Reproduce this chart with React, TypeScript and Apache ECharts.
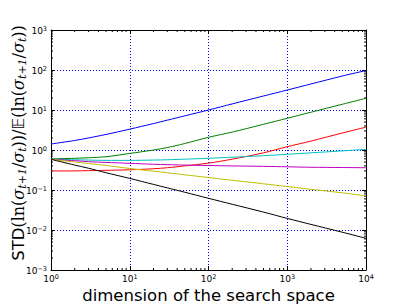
import React, { useEffect, useRef } from "react";
import * as echarts from "echarts";

const dims = [1, 2, 3, 5, 10, 20, 30, 50, 100, 200, 500, 1000, 2000, 5000, 10000];
const blue = [1.41, 1.73, 2.0, 2.45, 3.32, 4.58, 5.57, 7.14, 10.0, 14.2, 22.4, 31.6, 44.7, 70.7, 97];
const green = [0.6, 0.62, 0.64, 0.68, 0.82, 1.0, 1.15, 1.45, 2.08, 2.8, 4.4, 6.2, 8.8, 13.9, 19.6];
const red = [0.3, 0.3, 0.305, 0.31, 0.32, 0.34, 0.36, 0.4, 0.47, 0.59, 0.85, 1.21, 1.67, 2.66, 3.72];
const cyan = [0.585, 0.57, 0.56, 0.55, 0.55, 0.56, 0.57, 0.59, 0.62, 0.66, 0.72, 0.78, 0.85, 0.95, 1.04];
const magenta = [0.585, 0.54, 0.51, 0.49, 0.465, 0.44, 0.43, 0.42, 0.41, 0.4, 0.39, 0.38, 0.37, 0.365, 0.36];
const yellow = [0.585, 0.5, 0.46, 0.41, 0.345, 0.295, 0.27, 0.24, 0.205, 0.175, 0.143, 0.122, 0.104, 0.085, 0.071];
const black = [0.585, 0.42, 0.35, 0.27, 0.195, 0.138, 0.113, 0.088, 0.062, 0.044, 0.028, 0.0195, 0.0138, 0.0088, 0.0062];

const seriesList = [
  { name: "b", color: "#0000ff", values: blue },
  { name: "g", color: "#008000", values: green },
  { name: "r", color: "#ff0000", values: red },
  { name: "c", color: "#00bfbf", values: cyan },
  { name: "m", color: "#bf00bf", values: magenta },
  { name: "y", color: "#bfbf00", values: yellow },
  { name: "k", color: "#000000", values: black },
];

const xRange = [1, 10000];
const yRange = [0.001, 1000];
const minorMultipliers = [2, 3, 4, 5, 6, 7, 8, 9];
const xDecades = [1, 10, 100, 1000];
const yDecades = [0.001, 0.01, 0.1, 1, 10, 100];

const xLabel = "dimension of the search space";
const yLabelRich =
  "{s|STD}{m|(ln(}{i|σ}{sub|t+1}{m|/}{i|σ}{sub|t}{m|))/}{E|𝔼}{m|(ln(}{i|σ}{sub|t+1}{m|/}{i|σ}{sub|t}{m|))}";

const fmt = (v: number) => {
  const e = Math.round(Math.log10(v));
  const es = e < 0 ? "\u2212" + Math.abs(e) : String(e);
  return `{b|10}{e|${es}}`;
};

const labelRich = {
  b: { fontSize: 9, fontFamily: "DejaVu Sans", color: "#000", lineHeight: 10, verticalAlign: "bottom" },
  e: { fontSize: 6.5, fontFamily: "DejaVu Sans", color: "#000", lineHeight: 10, verticalAlign: "top" },
};

const nameRich = {
  s: { fontSize: 16.5, fontFamily: "DejaVu Sans", color: "#000", lineHeight: 20, verticalAlign: "middle" },
  m: { fontSize: 16, fontFamily: "DejaVu Serif", color: "#000", lineHeight: 20, verticalAlign: "middle" },
  i: { fontSize: 16, fontFamily: "DejaVu Serif", fontStyle: "italic", color: "#000", lineHeight: 20, verticalAlign: "middle" },
  E: { fontSize: 16, fontFamily: "DejaVu Sans", color: "#000", lineHeight: 20, verticalAlign: "middle" },
  sub: { fontSize: 11, fontFamily: "DejaVu Serif", fontStyle: "italic", color: "#000", lineHeight: 20, verticalAlign: "bottom" },
};

export default function App() {
  const ref = useRef<HTMLDivElement>(null);
  useEffect(() => {
    if (!ref.current) return;
    const chart = echarts.init(ref.current, null, { renderer: "svg" });

    const minorData: number[][] = [];
    xDecades.forEach((d) => minorMultipliers.forEach((m) => minorData.push([d * m, 1, 0])));
    yDecades.forEach((d) => minorMultipliers.forEach((m) => minorData.push([1, d * m, 1])));

    const axisCommon = {
      type: "log" as const,
      logBase: 10,
      axisLine: { show: true, lineStyle: { color: "#000", width: 1 } },
      axisTick: { show: true, inside: true, length: 4, lineStyle: { color: "#000", width: 1 } },
      minorTick: { show: false },
    };

    chart.setOption({
      animation: false,
      backgroundColor: "#fff",
      grid: { left: 51, right: 41, top: 30, bottom: 37, show: false, containLabel: false, outerBoundsMode: "none" },
      graphic: [
        {
          type: "text",
          x: 18,
          y: 143,
          rotation: Math.PI / 2,
          silent: true,
          style: { text: yLabelRich, rich: nameRich, align: "center", verticalAlign: "middle", fill: "#000" },
        },
      ],
      xAxis: [
        {
          ...axisCommon,
          min: xRange[0],
          max: xRange[1],
          splitNumber: 4,
          position: "bottom",
          axisLabel: { formatter: fmt, rich: labelRich, margin: 3 },
          splitLine: { show: true, lineStyle: { color: "#0000ff", type: [1, 2], width: 1 } },
          name: xLabel,
          nameLocation: "middle",
          nameGap: 16,
          nameMoveOverlap: false,
          nameTextStyle: { fontSize: 16.5, lineHeight: 18, fontFamily: "DejaVu Sans", color: "#000", verticalAlign: "top" },
        },
        {
          ...axisCommon,
          min: xRange[0],
          max: xRange[1],
          splitNumber: 4,
          position: "top",
          axisLabel: { show: false },
          splitLine: { show: false },
        },
      ],
      yAxis: [
        {
          ...axisCommon,
          min: yRange[0],
          max: yRange[1],
          splitNumber: 6,
          position: "left",
          axisLabel: { formatter: fmt, rich: labelRich, margin: 4 },
          splitLine: { show: true, lineStyle: { color: "#0000ff", type: [1, 2], width: 1 } },
        },
        {
          ...axisCommon,
          min: yRange[0],
          max: yRange[1],
          splitNumber: 6,
          position: "right",
          axisLabel: { show: false },
          splitLine: { show: false },
        },
      ],
      series: [
        ...seriesList.map((s) => ({
          type: "line",
          name: s.name,
          xAxisIndex: 0,
          yAxisIndex: 0,
          data: dims.map((d, i) => [d, s.values[i]]),
          smooth: 0.3,
          showSymbol: false,
          lineStyle: { color: s.color, width: 1 },
          itemStyle: { color: s.color },
        })),
        {
          type: "custom",
          xAxisIndex: 0,
          yAxisIndex: 0,
          clip: false,
          silent: true,
          data: minorData,
          renderItem: (params: any, api: any) => {
            const v0 = api.value(0);
            const v1 = api.value(1);
            const kind = api.value(2);
            const style = { stroke: "#000", lineWidth: 1 };
            if (kind === 0) {
              const a = api.coord([v0, yRange[0]]);
              const b = api.coord([v0, yRange[1]]);
              return {
                type: "group",
                children: [
                  { type: "line", shape: { x1: a[0], y1: a[1], x2: a[0], y2: a[1] - 2 }, style },
                  { type: "line", shape: { x1: b[0], y1: b[1], x2: b[0], y2: b[1] + 2 }, style },
                ],
              };
            }
            const a = api.coord([xRange[0], v1]);
            const b = api.coord([xRange[1], v1]);
            return {
              type: "group",
              children: [
                { type: "line", shape: { x1: a[0], y1: a[1], x2: a[0] + 2, y2: a[1] }, style },
                { type: "line", shape: { x1: b[0], y1: b[1], x2: b[0] - 2, y2: b[1] }, style },
              ],
            };
          },
        },
      ],
    });
    return () => chart.dispose();
  }, []);
  return <div ref={ref} style={{ width: 407, height: 307, position: "absolute", left: 0, top: 0 }} />;
}
